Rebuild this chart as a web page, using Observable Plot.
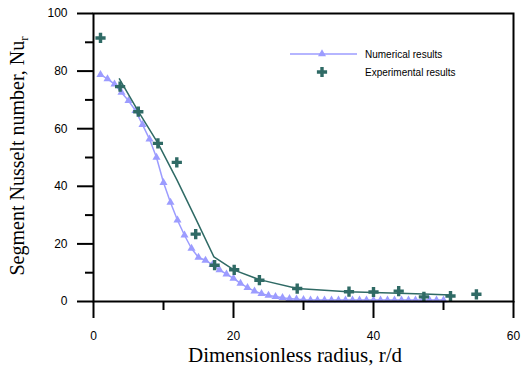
<!DOCTYPE html>
<html>
<head>
<meta charset="utf-8">
<script src="https://cdn.jsdelivr.net/npm/d3@7"></script>
<script src="https://cdn.jsdelivr.net/npm/@observablehq/plot@0.6"></script>
<style>
  html, body { margin: 0; padding: 0; background: #fff; }
</style>
</head>
<body>
<div id="chart"></div>
<script>
// Numerical results (triangles)
const numX = [1,2,3,4,5,6,7,8,9,10,11,12,13,14,15,16,17,18,19,20,21,22,23,24,25,26,27,28,29,30,31,32,33,34,35,36,37,38,39,40,41,42,43,44,45,46,47,48,49,50];
const numY = [78.8,77.3,75.5,72.6,69.7,66.3,61.4,56.4,50.0,41.3,34.4,28.2,23.0,18.4,15.3,14.3,12.8,11.0,9.5,8.0,6.3,4.8,3.6,2.7,2.1,1.7,1.3,1.0,0.8,0.6,0.5,0.5,0.5,0.5,0.5,0.5,0.5,0.5,0.5,0.5,0.5,0.5,0.5,0.5,0.5,0.5,0.5,0.5,0.5,0.5];

// Experimental results (crosses)
const expX = [1.0,3.8,6.4,9.2,11.9,14.6,17.3,20.1,23.7,29.1,36.5,40.0,43.6,47.2,51.0,54.7];
const expY = [91.5,74.6,65.9,54.9,48.3,23.4,12.6,11.0,7.4,4.5,3.4,3.3,3.6,1.6,1.9,2.5];

// Experimental fitted line
const expLineX = [3.7,6.4,9.2,11.9,14.6,17.2,20.1,23.7,29.1,36.3,40.0,43.6,47.2,51.0];
const expLineY = [77.3,66.0,55.0,42.3,28.8,15.5,10.9,7.6,4.5,3.4,3.1,2.9,2.6,2.3];

const xMajor = [0,20,40,60];
const xMinor = [10,30,50];
const yMajor = [0,20,40,60,80,100];
const yMinor = [10,30,50,70,90];

const numData = numX.map((x,i) => ({x, y: numY[i]}));
const expData = expX.map((x,i) => ({x, y: expY[i]}));
const expLine = expLineX.map((x,i) => ({x, y: expLineY[i]}));

const purple = "#9c9cff";
const teal = "#2f6a65";

const svg = Plot.plot({
  width: 523,
  height: 368,
  marginLeft: 93,
  marginRight: 10,
  marginTop: 13,
  marginBottom: 67,
  x: {domain: [0,60], axis: null},
  y: {domain: [0,100], axis: null},
  style: {fontFamily: "'Liberation Sans', Arial, sans-serif", fontSize: "12px", background: "#fff", color: "#000"},
  marks: [
    Plot.line(numData, {x: "x", y: "y", stroke: purple, strokeWidth: 1.5}),
    Plot.dot(numData, {x: "x", y: "y", symbol: "triangle", fill: purple, stroke: "none", r: 3}),
    Plot.line(expLine, {x: "x", y: "y", stroke: teal, strokeWidth: 1.5}),
    Plot.dot(expData, {x: "x", y: "y", symbol: "cross", fill: teal, stroke: "none", r: 4.3}),
    Plot.frame({stroke: "#000", strokeWidth: 2}),
    Plot.axisY(yMajor, {tickSize: 16, tickPadding: 10, strokeWidth: 2, label: null, fontSize: 12}),
    Plot.axisY(yMinor, {tickSize: 8, tickFormat: () => "", strokeWidth: 2, label: null}),
    Plot.axisX(xMajor, {tickSize: 17, tickPadding: 13, strokeWidth: 2, label: null, fontSize: 12}),
    Plot.axisX(xMinor, {tickSize: 9, tickFormat: () => "", strokeWidth: 2, label: null})
  ]
});

const s = d3.select(svg);
// X axis title
s.append("text")
  .attr("x", 295).attr("y", 362)
  .attr("text-anchor", "middle")
  .attr("font-family", "'Liberation Serif', 'Times New Roman', serif")
  .attr("font-size", 21)
  .attr("fill", "#000")
  .text("Dimensionless radius, r/d");
// Y axis title with subscript
const yt = s.append("text")
  .attr("transform", "translate(24,156) rotate(-90)")
  .attr("text-anchor", "middle")
  .attr("font-family", "'Liberation Serif', 'Times New Roman', serif")
  .attr("font-size", 20)
  .attr("fill", "#000");
yt.append("tspan").text("Segment Nusselt number, Nu");
yt.append("tspan").attr("font-size", 13).attr("dy", 4).text("r");

// Legend
const lg = s.append("g")
  .attr("font-family", "'Liberation Sans', Arial, sans-serif")
  .attr("font-size", 10)
  .attr("text-anchor", "start");
lg.append("line").attr("x1", 290).attr("x2", 357).attr("y1", 54).attr("y2", 54)
  .attr("stroke", purple).attr("stroke-width", 1.5);
lg.append("path").attr("d", d3.symbol(d3.symbolTriangle, 28)()).attr("transform", "translate(322,54)").attr("fill", purple);
lg.append("text").attr("x", 365).attr("y", 54).attr("dy", "0.35em").attr("text-anchor", "start").text("Numerical results");
lg.append("path").attr("d", d3.symbol(d3.symbolCross, 58)()).attr("transform", "translate(322,72)").attr("fill", teal);
lg.append("text").attr("x", 365).attr("y", 72).attr("dy", "0.35em").attr("text-anchor", "start").text("Experimental results");

document.getElementById("chart").appendChild(svg);
</script>
</body>
</html>
